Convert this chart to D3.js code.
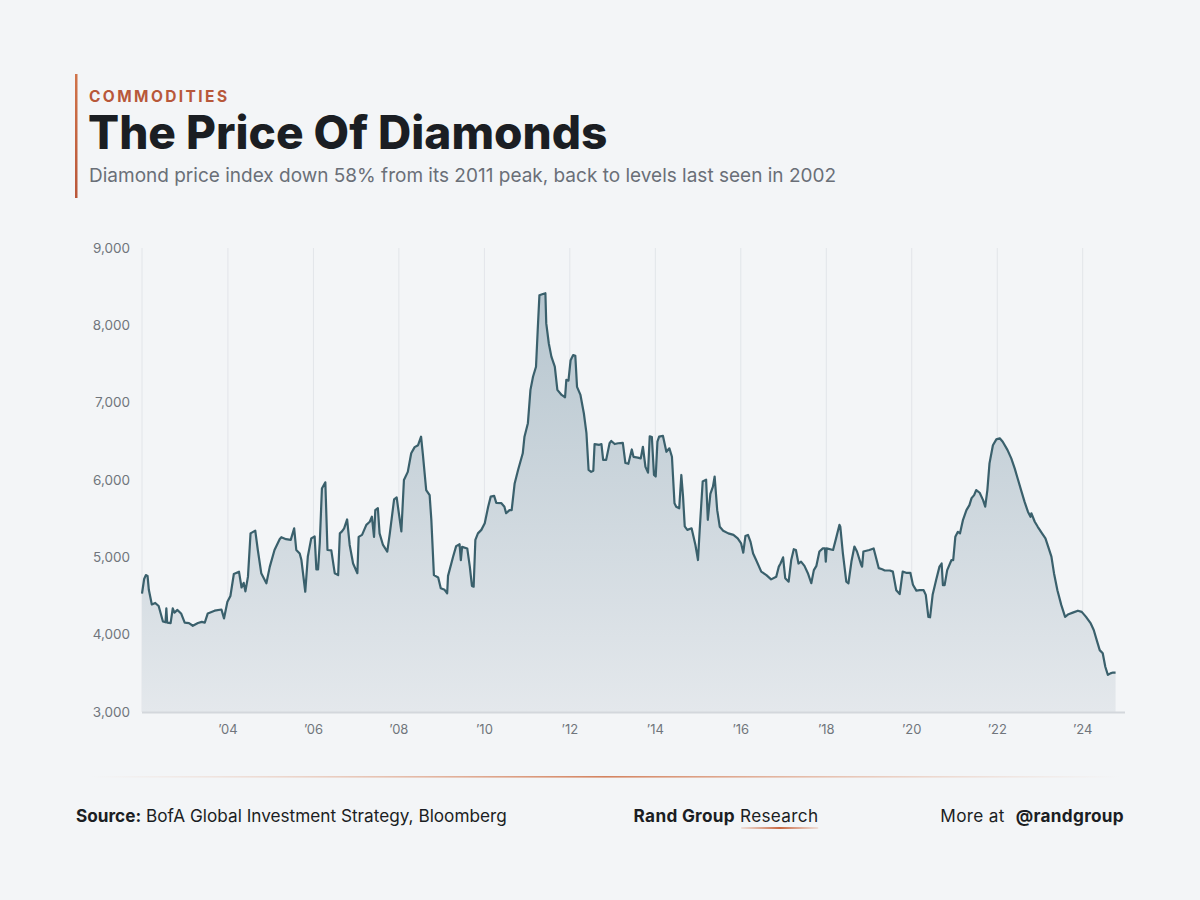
<!DOCTYPE html>
<html><head><meta charset="utf-8">
<script src="https://cdn.jsdelivr.net/npm/d3@7"></script>
<style>
html,body{margin:0;padding:0;background:#f3f5f7;}
svg{display:block;font-family:Inter,"Noto Sans",sans-serif;}
</style></head><body>
<svg id="c" width="1200" height="900"></svg>
<script>
// ---- data (decimal year, diamond price index) ----
const years = [
2002.00,2002.05,2002.09,2002.13,2002.16,2002.23,2002.31,2002.39,2002.49,2002.55,2002.57,2002.59,2002.67,2002.72,2002.76,2002.83,2002.92,
2003.00,2003.10,2003.19,2003.31,2003.40,2003.47,2003.54,2003.70,2003.86,2003.92,
2004.00,2004.07,2004.15,2004.27,2004.33,2004.38,2004.42,2004.48,2004.54,2004.65,2004.71,2004.79,2004.91,2004.99,
2005.10,2005.22,2005.26,2005.37,2005.48,2005.56,2005.61,2005.69,2005.73,2005.82,2005.88,2005.96,
2006.04,2006.08,2006.12,2006.16,2006.21,2006.29,2006.34,2006.43,2006.51,2006.59,2006.63,2006.68,2006.73,2006.80,2006.86,2006.94,
2007.04,2007.07,2007.15,2007.25,2007.33,2007.38,2007.43,2007.46,2007.52,2007.56,2007.64,2007.74,2007.80,2007.90,2007.96,
2008.07,2008.13,2008.22,2008.30,2008.38,2008.46,2008.53,2008.57,2008.65,2008.73,2008.77,2008.83,2008.93,2008.99,
2009.08,2009.14,2009.16,2009.28,2009.35,2009.43,2009.46,2009.49,2009.61,2009.67,2009.72,2009.76,2009.80,2009.86,2009.94,
2010.02,2010.10,2010.16,2010.24,2010.29,2010.41,2010.48,2010.52,2010.60,2010.65,2010.72,2010.80,2010.91,2010.95,
2011.03,2011.09,2011.15,2011.22,2011.26,2011.30,2011.38,2011.44,2011.46,2011.52,2011.58,2011.66,2011.72,2011.82,2011.90,2011.93,2011.98,
2012.03,2012.09,2012.14,2012.18,2012.26,2012.34,2012.40,2012.45,2012.51,2012.56,2012.59,2012.70,2012.75,2012.79,2012.86,2012.94,2012.98,
2013.06,2013.14,2013.25,2013.31,2013.38,2013.46,2013.50,2013.60,2013.67,2013.72,2013.78,2013.84,2013.88,2013.93,2013.98,
2014.02,2014.06,2014.10,2014.19,2014.27,2014.34,2014.40,2014.46,2014.50,2014.57,2014.62,2014.66,2014.70,2014.76,2014.86,2014.95,
2015.01,2015.05,2015.12,2015.20,2015.24,2015.30,2015.36,2015.40,2015.46,2015.52,2015.60,2015.72,2015.84,2015.94,
2016.02,2016.07,2016.12,2016.18,2016.24,2016.30,2016.37,2016.49,2016.61,2016.72,2016.84,2016.90,2016.94,
2017.00,2017.05,2017.13,2017.19,2017.25,2017.30,2017.36,2017.42,2017.50,2017.58,2017.66,2017.72,2017.78,2017.85,2017.93,2017.98,
2018.00,2018.02,2018.17,2018.24,2018.32,2018.34,2018.40,2018.48,2018.53,2018.60,2018.67,2018.73,2018.83,2018.85,2018.88,
2019.02,2019.12,2019.16,2019.24,2019.32,2019.38,2019.50,2019.57,2019.65,2019.73,2019.80,2019.88,2019.98,
2020.04,2020.12,2020.20,2020.29,2020.34,2020.40,2020.44,2020.50,2020.58,2020.66,2020.71,2020.74,2020.78,2020.84,2020.94,2020.98,
2021.03,2021.09,2021.14,2021.21,2021.29,2021.36,2021.41,2021.47,2021.52,2021.60,2021.68,2021.73,2021.78,2021.83,2021.91,2021.99,
2022.07,2022.14,2022.25,2022.34,2022.42,2022.50,2022.58,2022.65,2022.73,2022.79,2022.81,2022.89,2022.96,
2023.06,2023.14,2023.20,2023.28,2023.34,2023.42,2023.51,2023.60,2023.68,2023.78,2023.90,2023.99,
2024.09,2024.20,2024.27,2024.35,2024.41,2024.48,2024.54,2024.60,2024.66,2024.72,2024.78
];
const prices = [
4530,4720,4770,4760,4580,4390,4410,4370,4170,4160,4340,4155,4150,4340,4285,4320,4270,
4155,4150,4115,4150,4165,4155,4275,4310,4325,4210,
4425,4500,4785,4815,4610,4670,4560,4750,5310,5345,5095,4795,4665,4880,
5095,5235,5260,5235,5225,5375,5095,5050,4965,4555,5010,5245,
5270,4845,4845,5190,5890,5970,5095,5090,4795,4770,5310,5335,5375,5490,5160,4920,
4795,5265,5290,5420,5460,5525,5265,5610,5635,5310,5160,5075,5310,5750,5775,
5335,6000,6105,6345,6425,6450,6560,6345,5870,5805,5485,4770,4740,4600,
4580,4535,4760,5010,5145,5170,4965,5135,5115,4880,4630,4620,5225,5310,5355,
5440,5655,5785,5795,5705,5700,5655,5570,5610,5610,5955,6130,6345,6560,
6735,7165,7335,7465,7940,8390,8405,8415,8025,7765,7595,7465,7165,7100,7070,7295,7285,
7550,7615,7605,7205,7100,6860,6605,6130,6105,6120,6465,6455,6465,6260,6260,6475,6505,
6465,6475,6480,6220,6210,6395,6300,6290,6280,6430,6170,6095,6565,6555,6065,
6045,6495,6560,6570,6365,6410,6300,5700,5655,5635,6065,5785,5400,5355,5375,5160,
4965,5355,5980,6005,5485,5820,5915,6045,5610,5395,5345,5310,5290,5245,
5180,5060,5275,5290,5200,5050,4965,4815,4770,4715,4750,4880,4920,
5000,4730,4685,4965,5105,5095,4920,4945,4890,4795,4665,4835,4890,5075,5115,5115,
4945,5115,5095,5245,5420,5395,5050,4685,4665,4945,5140,5075,4900,4880,5075,
5095,5115,5030,4860,4845,4830,4830,4815,4575,4525,4815,4800,4800,
4645,4570,4575,4575,4515,4230,4225,4515,4705,4880,4920,4640,4640,4835,4965,4965,
5265,5330,5310,5485,5610,5675,5765,5805,5870,5835,5740,5655,5870,6215,6450,6525,
6540,6495,6390,6280,6150,6000,5850,5720,5590,5525,5570,5460,5395,
5310,5245,5145,5010,4795,4575,4385,4230,4265,4285,4310,4295,
4230,4145,4060,3910,3800,3760,3585,3480,3500,3510,3510
];
const yTicks = [3000,4000,5000,6000,7000,8000,9000];
const xTickYears = [2004,2006,2008,2010,2012,2014,2016,2018,2020,2022,2024];
const kicker = "COMMODITIES";
const title = "The Price Of Diamonds";
const subtitle = "Diamond price index down 58% from its 2011 peak, back to levels last seen in 2002";

function decToDate(y){
  const yr = Math.floor(y);
  const a = new Date(yr,0,1).getTime(), b = new Date(yr+1,0,1).getTime();
  return new Date(a + (y-yr)*(b-a));
}
const data = years.map((y,i)=>({date:decToDate(y), value:prices[i]}));

const svg = d3.select("#c");
const defs = svg.append("defs");

// header
const accent = defs.append("linearGradient").attr("id","acc").attr("x1",0).attr("x2",0).attr("y1",0).attr("y2",1);
accent.append("stop").attr("offset","0%").attr("stop-color","#d0744a");
accent.append("stop").attr("offset","100%").attr("stop-color","#b9573a");
svg.append("rect").attr("x",75).attr("y",74).attr("width",2.5).attr("height",124).attr("fill","url(#acc)");
svg.append("text").attr("x",89).attr("y",102).text(kicker)
  .attr("font-size",15.5).attr("font-weight",700).attr("letter-spacing",2.4).attr("fill","#b8583a");
svg.append("text").attr("x",88).attr("y",149).text(title)
  .attr("font-size",46).attr("font-weight",800).attr("letter-spacing",0).attr("fill","#1b1e23");
svg.append("text").attr("x",89).attr("y",182).text(subtitle)
  .attr("font-size",19).attr("font-weight",400).attr("fill","#6a6f77");

// chart
const x = d3.scaleTime().domain([new Date(2002,0,1), new Date(2025,0,1)]).range([142,1125]);
const y = d3.scaleLinear().domain([3000,9000]).range([712,248]);

// vertical gridlines
const grid = svg.append("g").attr("transform","translate(0,712)")
  .call(d3.axisBottom(x).tickValues(xTickYears.map(v=>new Date(v,0,1))).tickSize(-(712-248)).tickFormat(""));
grid.select(".domain").remove();
grid.selectAll("line").attr("stroke","#e2e5e9").attr("stroke-width",1);

// left edge line
svg.append("line").attr("x1",x.range()[0]).attr("x2",x.range()[0]).attr("y1",248).attr("y2",712)
  .attr("stroke","#e2e5e9").attr("stroke-width",1);

// area gradient
const ag = defs.append("linearGradient").attr("id","areaG").attr("gradientUnits","userSpaceOnUse")
  .attr("x1",0).attr("x2",0).attr("y1",y(8400)).attr("y2",y(3000));
ag.append("stop").attr("offset","0%").attr("stop-color","#b7c6cf");
ag.append("stop").attr("offset","100%").attr("stop-color","#e4e8ec");

const area = d3.area().x(d=>x(d.date)).y0(y(3000)).y1(d=>y(d.value));
svg.append("path").datum(data).attr("d",area).attr("fill","url(#areaG)");

// bottom axis line
svg.append("line").attr("x1",142).attr("x2",1125).attr("y1",712.5).attr("y2",712.5)
  .attr("stroke","#d3d7dc").attr("stroke-width",2);

const line = d3.line().x(d=>x(d.date)).y(d=>y(d.value));
svg.append("path").datum(data).attr("d",line).attr("fill","none")
  .attr("stroke","#3a606c").attr("stroke-width",2.2).attr("stroke-linejoin","round");

// axes labels
const xa = svg.append("g").attr("transform","translate(0,712)")
  .call(d3.axisBottom(x).tickValues(xTickYears.map(v=>new Date(v,0,1))).tickSize(0).tickPadding(13)
    .tickFormat(d=>"\u2019"+String(d.getFullYear()).slice(2)));
xa.select(".domain").remove();
xa.selectAll("text").attr("font-size",13).attr("fill","#70757c").attr("font-family","Inter,sans-serif");

const ya = svg.append("g").attr("transform","translate(130,0)")
  .call(d3.axisLeft(y).tickValues(yTicks).tickSize(0).tickPadding(0).tickFormat(d3.format(",")));
ya.select(".domain").remove();
ya.selectAll("text").attr("font-size",13.5).attr("fill","#70757c").attr("font-family","Inter,sans-serif");

// footer separator
const fg = defs.append("linearGradient").attr("id","footG");
fg.append("stop").attr("offset","0%").attr("stop-color","#e8b9a2").attr("stop-opacity",0);
fg.append("stop").attr("offset","50%").attr("stop-color","#d4835f");
fg.append("stop").attr("offset","100%").attr("stop-color","#e8b9a2").attr("stop-opacity",0);
svg.append("rect").attr("x",90).attr("y",776).attr("width",1030).attr("height",1.6).attr("fill","url(#footG)");

const fs = 17.2;
const f1 = svg.append("text").attr("x",76).attr("y",822).attr("font-size",fs).attr("fill","#1b1e23");
f1.append("tspan").attr("font-weight",700).text("Source:");
f1.append("tspan").attr("font-weight",400).text(" BofA Global Investment Strategy, Bloomberg");

const f2 = svg.append("text").attr("x",726).attr("y",822).attr("font-size",fs).attr("fill","#1b1e23")
  .attr("text-anchor","middle").attr("letter-spacing",0.3);
f2.append("tspan").attr("font-weight",700).text("Rand Group");
const rs = f2.append("tspan").attr("font-weight",400).text(" Research");

const ug = defs.append("linearGradient").attr("id","ulG");
ug.append("stop").attr("offset","0%").attr("stop-color","#d4835f").attr("stop-opacity",0.2);
ug.append("stop").attr("offset","50%").attr("stop-color","#c8663f");
ug.append("stop").attr("offset","100%").attr("stop-color","#d4835f").attr("stop-opacity",0.2);
const bb = f2.node().getBBox();
const rw = rs.node().getComputedTextLength();
svg.append("rect").attr("x",bb.x+bb.width-rw+6).attr("y",827).attr("width",rw-6).attr("height",2).attr("rx",1).attr("fill","url(#ulG)");

const f3 = svg.append("text").attr("x",1124).attr("y",822).attr("font-size",fs).attr("fill","#1b1e23")
  .attr("text-anchor","end").attr("letter-spacing",0.3);
f3.append("tspan").attr("font-weight",400).text("More at ");
f3.append("tspan").attr("font-weight",700).attr("dx",6).text("@randgroup");
</script>
</body></html>
